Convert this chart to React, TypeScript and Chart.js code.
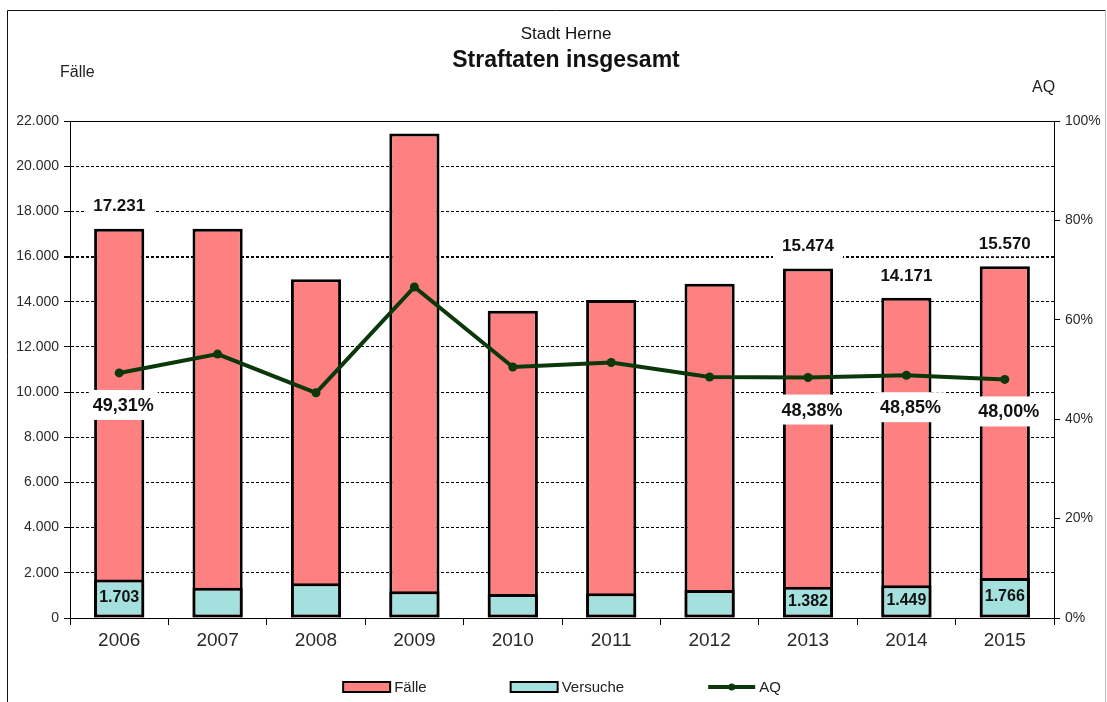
import React, { useEffect, useRef } from 'react';
import { Chart, registerables } from 'chart.js';

Chart.register(...registerables);

// ---- data ----
const years = ['2006', '2007', '2008', '2009', '2010', '2011', '2012', '2013', '2014', '2015'];
const faelle = [17231, 17228, 14990, 21450, 13600, 14080, 14800, 15474, 14171, 15570];
const versuche = [1703, 1340, 1535, 1181, 1062, 1092, 1240, 1382, 1449, 1766];
const aq = [49.31, 53.1, 45.3, 66.6, 50.5, 51.4, 48.5, 48.38, 48.85, 48.0];
const labeledYears = ['2006', '2013', '2014', '2015'];
const leftTickMax = 22000;
const leftTickStep = 2000;
const rightTickMax = 100;
const rightTickStep = 20;

const subtitleText = 'Stadt Herne';
const titleText = 'Straftaten insgesamt';
const leftAxisTitle = 'Fälle';
const rightAxisTitle = 'AQ';

const FONT = '"Liberation Sans", Arial, Helvetica, sans-serif';
const RED = '#ff8080';
const CYAN = '#a3e0de';
const GREEN = '#0a380a';

const fmtInt = (v: number) => String(Math.round(v)).replace(/\B(?=(\d{3})+(?!\d))/g, '.');
const fmtPct = (v: number) => v.toFixed(2).replace('.', ',') + '%';

const decorPlugin = {
  id: 'decor',
  beforeDraw(chart: any) {
    const ctx = chart.ctx as CanvasRenderingContext2D;
    ctx.save();
    ctx.fillStyle = '#fff';
    ctx.fillRect(0, 0, chart.width, chart.height);
    // outer frame
    ctx.lineWidth = 1;
    ctx.strokeStyle = '#111';
    ctx.beginPath();
    ctx.moveTo(7.5, chart.height + 2);
    ctx.lineTo(7.5, 10.5);
    ctx.lineTo(1105.5, 10.5);
    ctx.stroke();
    ctx.strokeStyle = '#bbb';
    ctx.beginPath();
    ctx.moveTo(1105.5, 10.5);
    ctx.lineTo(1105.5, chart.height + 2);
    ctx.stroke();
    // titles
    ctx.fillStyle = '#111';
    ctx.textAlign = 'center';
    ctx.textBaseline = 'alphabetic';
    ctx.font = `17px ${FONT}`;
    ctx.fillText(subtitleText, 566, 39);
    ctx.font = `bold 23px ${FONT}`;
    ctx.fillText(titleText, 566, 67);
    // axis titles
    ctx.font = `16px ${FONT}`;
    ctx.textAlign = 'left';
    ctx.fillStyle = '#222';
    ctx.fillText(leftAxisTitle, 60, 77);
    ctx.fillText(rightAxisTitle, 1032, 92);
    ctx.restore();
  },
  afterDatasetsDraw(chart: any) {
    const ctx = chart.ctx as CanvasRenderingContext2D;
    const area = chart.chartArea;
    ctx.save();
    // solid top frame of plot area
    ctx.strokeStyle = '#000';
    ctx.lineWidth = 1;
    ctx.beginPath();
    ctx.moveTo(area.left, Math.round(area.top) + 0.5);
    ctx.lineTo(area.right, Math.round(area.top) + 0.5);
    ctx.stroke();

    const mF = chart.getDatasetMeta(0);
    const mV = chart.getDatasetMeta(1);
    const mA = chart.getDatasetMeta(2);
    ctx.textAlign = 'center';
    ctx.textBaseline = 'middle';
    years.forEach((yr, i) => {
      if (!labeledYears.includes(yr)) return;
      // Fälle total label above bar
      const bf = mF.data[i];
      ctx.font = `bold 17px ${FONT}`;
      let t = fmtInt(faelle[i]);
      let w = ctx.measureText(t).width + 18;
      let cy = bf.y - 23;
      ctx.fillStyle = '#fff';
      ctx.fillRect(bf.x - w / 2, cy - 13, w, 26);
      ctx.fillStyle = '#111';
      ctx.fillText(t, bf.x, cy + 1);
      // Versuche label inside cyan bar
      const bv = mV.data[i];
      ctx.font = `bold 16px ${FONT}`;
      t = fmtInt(versuche[i]);
      ctx.fillText(t, bv.x, (bv.y + bv.base) / 2 - 1);
      // AQ label below point
      const pa = mA.data[i];
      ctx.font = `bold 18px ${FONT}`;
      t = fmtPct(aq[i]);
      w = ctx.measureText(t).width + 8;
      const ax = pa.x + 4;
      cy = pa.y + 32;
      ctx.fillStyle = '#fff';
      ctx.fillRect(ax - w / 2, cy - 15, w, 30);
      ctx.fillStyle = '#111';
      ctx.fillText(t, ax, cy + 1);
    });
    ctx.restore();
  },
  afterDraw(chart: any) {
    const ctx = chart.ctx as CanvasRenderingContext2D;
    const area = chart.chartArea;
    ctx.save();
    // custom legend
    const boxW = 47;
    const gap = 84;
    const y = 687;
    ctx.font = `15px ${FONT}`;
    const items = chart.data.datasets.map((ds: any) => ({
      ds,
      tw: ctx.measureText(ds.label).width,
    }));
    const total = items.reduce((s: number, it: any) => s + boxW + 4 + it.tw, 0) + gap * (items.length - 1);
    let x = (area.left + area.right) / 2 - total / 2;
    items.forEach((it: any) => {
      const ds = it.ds;
      if (ds.type === 'line') {
        ctx.strokeStyle = ds.borderColor;
        ctx.lineWidth = 4;
        ctx.beginPath();
        ctx.moveTo(x, y);
        ctx.lineTo(x + boxW, y);
        ctx.stroke();
        ctx.fillStyle = ds.borderColor;
        ctx.beginPath();
        ctx.arc(x + boxW / 2, y, 3.5, 0, Math.PI * 2);
        ctx.fill();
      } else {
        ctx.fillStyle = ds.backgroundColor;
        ctx.fillRect(x, y - 5, boxW, 10);
        ctx.strokeStyle = '#000';
        ctx.lineWidth = 2;
        ctx.strokeRect(x, y - 5, boxW, 10);
      }
      ctx.fillStyle = '#222';
      ctx.textAlign = 'left';
      ctx.textBaseline = 'middle';
      ctx.fillText(ds.label, x + boxW + 4, y + 1);
      x += boxW + 4 + it.tw + gap;
    });
    ctx.restore();
  },
};

export default function App() {
  const ref = useRef<HTMLCanvasElement | null>(null);

  useEffect(() => {
    if (!ref.current) return;
    const chart = new Chart(ref.current, {
      type: 'bar',
      data: {
        labels: years,
        datasets: [
          {
            type: 'bar',
            label: 'Fälle',
            data: faelle,
            backgroundColor: RED,
            borderColor: '#000',
            borderWidth: 3,
            yAxisID: 'y',
            grouped: false,
            order: 3,
            barPercentage: 0.51,
            categoryPercentage: 1,
          } as any,
          {
            type: 'bar',
            label: 'Versuche',
            data: versuche,
            backgroundColor: CYAN,
            borderColor: '#000',
            borderWidth: 3,
            borderSkipped: false,
            yAxisID: 'y',
            grouped: false,
            order: 2,
            barPercentage: 0.51,
            categoryPercentage: 1,
          } as any,
          {
            type: 'line',
            label: 'AQ',
            data: aq,
            borderColor: GREEN,
            backgroundColor: GREEN,
            borderWidth: 4,
            pointRadius: 4.5,
            pointBackgroundColor: GREEN,
            pointBorderColor: GREEN,
            pointBorderWidth: 0,
            tension: 0,
            fill: false,
            yAxisID: 'y1',
            order: 1,
          } as any,
        ],
      },
      options: {
        responsive: false,
        animation: false,
        devicePixelRatio: 1,
        layout: { padding: { top: 121, bottom: 34, left: 0, right: 0 } },
        plugins: {
          legend: { display: false },
          tooltip: { enabled: false },
          title: { display: false },
        },
        scales: {
          x: {
            afterFit: (s: any) => {
              s.height = 50;
            },
            grid: {
              display: true,
              drawOnChartArea: false,
              drawTicks: true,
              tickLength: 7,
              color: '#000',
              offset: true,
            },
            border: { display: true, color: '#000', width: 1 },
            ticks: {
              color: '#2a2a2a',
              font: { family: FONT, size: 19 },
              padding: 4,
              maxRotation: 0,
            },
          },
          y: {
            position: 'left',
            min: 0,
            max: leftTickMax,
            afterFit: (s: any) => {
              s.width = 70;
            },
            grid: {
              color: '#000',
              lineWidth: (c: any) => (c.tick && c.tick.value === 16000 ? 2 : 1),
              tickLength: 6,
              drawTicks: true,
            },
            border: { display: true, color: '#000', width: 1, dash: [3, 2] },
            ticks: {
              stepSize: leftTickStep,
              color: '#2a2a2a',
              font: { family: FONT, size: 14 },
              padding: 5,
              callback: (v: any) => fmtInt(Number(v)),
            },
          },
          y1: {
            position: 'right',
            min: 0,
            max: rightTickMax,
            afterFit: (s: any) => {
              s.width = 53;
            },
            grid: {
              drawOnChartArea: false,
              color: '#000',
              tickLength: 6,
            },
            border: { display: true, color: '#000', width: 1 },
            ticks: {
              stepSize: rightTickStep,
              color: '#2a2a2a',
              font: { family: FONT, size: 14 },
              padding: 5,
              callback: (v: any) => `${v}%`,
            },
          },
        },
      },
      plugins: [decorPlugin],
    } as any);
    return () => chart.destroy();
  }, []);

  return (
    <div style={{ position: 'absolute', left: 0, top: 0, width: 1107, height: 702 }}>
      <canvas ref={ref} width={1107} height={702} style={{ display: 'block', width: 1107, height: 702 }} />
    </div>
  );
}
